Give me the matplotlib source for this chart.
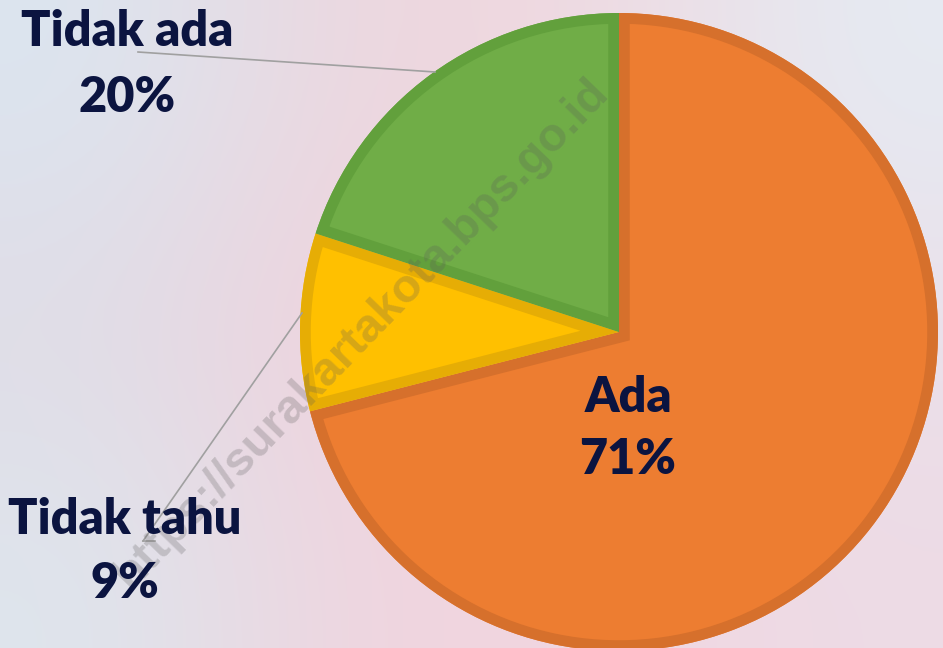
import matplotlib
matplotlib.use("Agg")
import matplotlib.pyplot as plt
from matplotlib.patches import Wedge
import numpy as np

categories = ["Ada", "Tidak tahu", "Tidak ada"]
values = [71, 9, 20]
pct_labels = ["71%", "9%", "20%"]
colors = ["#ED7D31", "#FFC000", "#70AD47"]
edge_colors = ["#D6702C", "#E6AD05", "#62A03C"]
text_color = "#0B1440"
font = "Lato"

W, H = 943, 648
fig = plt.figure(figsize=(W / 100, H / 100), dpi=100)
ax = fig.add_axes([0, 0, 1, 1])

# soft blurred background
bg = np.array([
    [[0.86, 0.90, 0.94], [0.93, 0.84, 0.87], [0.94, 0.85, 0.88], [0.90, 0.92, 0.95]],
    [[0.88, 0.86, 0.90], [0.95, 0.82, 0.86], [0.93, 0.84, 0.88], [0.92, 0.88, 0.92]],
    [[0.87, 0.90, 0.93], [0.94, 0.83, 0.87], [0.95, 0.84, 0.88], [0.93, 0.86, 0.90]],
])
ax.imshow(bg, extent=[0, W, 0, H], interpolation="bicubic", aspect="auto", zorder=0)

cx, cy, r = 619, 316, 319
wedges, _ = ax.pie(values, colors=colors, startangle=90, counterclock=False,
                   center=(cx, cy), radius=r, frame=True,
                   wedgeprops=dict(linewidth=0, zorder=2))
for w, ec in zip(wedges, edge_colors):
    stroke = Wedge(w.center, w.r, w.theta1, w.theta2, facecolor="none",
                   edgecolor=ec, linewidth=15.5, zorder=2.5, joinstyle="miter")
    ax.add_patch(stroke)
    stroke.set_clip_path(w)
ax.set_xlim(0, W)
ax.set_ylim(0, H)
ax.set_aspect("equal")
ax.axis("off")

# leader lines
lc = "#A0A0A0"
ax.plot([138, 435], [H - 52, H - 72], color=lc, lw=1.2, zorder=3)
ax.plot([143, 155], [H - 541, H - 541], color=lc, lw=1.2, zorder=3)
ax.plot([143, 302], [H - 541, H - 313], color=lc, lw=1.2, zorder=3)

# watermark
ax.text(362, H - 333, "https://surakartakota.bps.go.id", rotation=46, ha="center", va="center",
        fontsize=34, fontweight="bold", family="Liberation Sans", color="#5A5A5A",
        alpha=0.25, zorder=4, rotation_mode="anchor")

fs = 35
lab_pos = {"Ada": (628, 397, 460), "Tidak tahu": (125, 520, 583), "Tidak ada": (127, 32, 97)}
for cat, pct in zip(categories, pct_labels):
    x, y1, y2 = lab_pos[cat]
    ax.text(x, H - y1, cat, ha="center", va="center", fontsize=fs, fontweight="heavy",
            family=font, color=text_color, zorder=5)
    ax.text(x, H - y2, pct, ha="center", va="center", fontsize=fs, fontweight="heavy",
            family=font, color=text_color, zorder=5)

fig.savefig("out.png", dpi=100)
